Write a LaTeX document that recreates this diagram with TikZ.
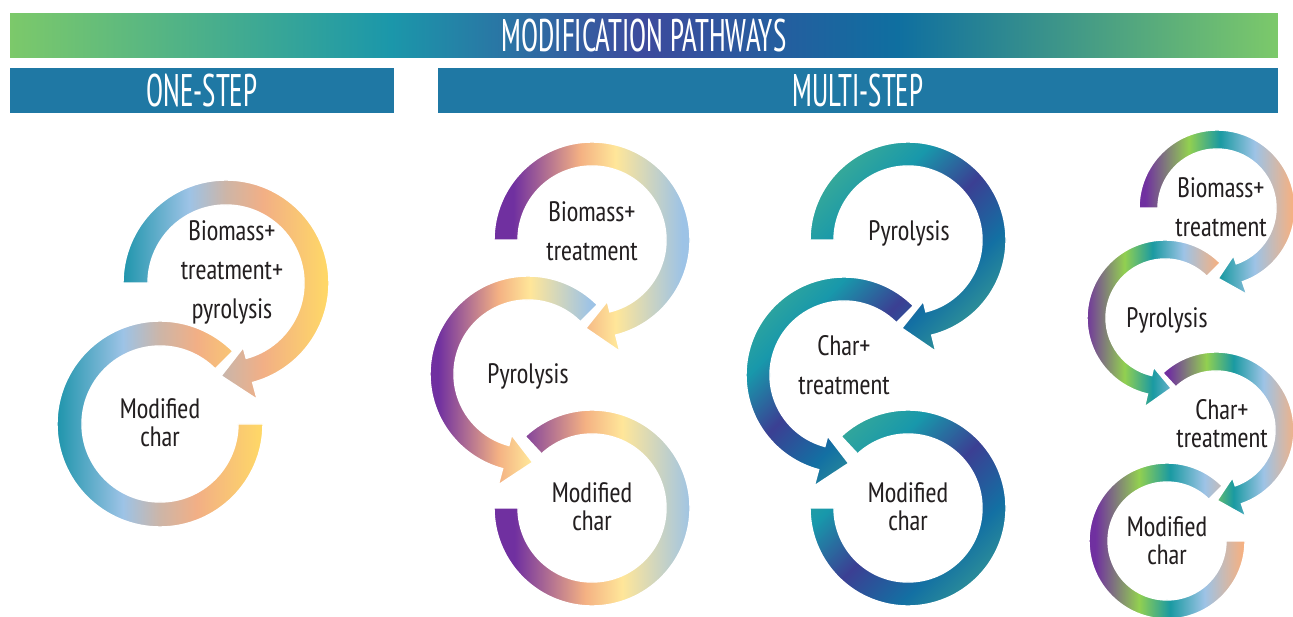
\documentclass[tikz,border=0pt]{standalone}
\usepackage{fontspec}
\setmainfont{PT Sans Narrow}[FakeStretch=0.95]
\newfontfamily\headfont{PT Sans Narrow}[FakeStretch=0.68]
\usetikzlibrary{calc}

% Colours
\definecolor{ink}{HTML}{231F20}
\definecolor{barblue}{HTML}{1F78A4}
\definecolor{hGreen}{HTML}{7CC96A}
\definecolor{hTeal}{HTML}{1B97AA}
\definecolor{hIndigo}{HTML}{3D4A9D}
\definecolor{hBlue}{HTML}{0F6FA0}
\definecolor{aTeal}{HTML}{1F95AC}
\definecolor{aBlue}{HTML}{9DC3E6}
\definecolor{aTan}{HTML}{CDB5A7}
\definecolor{aSalmon}{HTML}{F2AF85}
\definecolor{aYellow}{HTML}{FFD966}
\definecolor{bPurple}{HTML}{7030A0}
\definecolor{bOrange}{HTML}{F4B183}
\definecolor{bYellow}{HTML}{FFE699}
\definecolor{bLight}{HTML}{9DC3E6}
\definecolor{cGreen}{HTML}{4DB58B}
\definecolor{cTeal}{HTML}{1898AB}
\definecolor{cIndigo}{HTML}{3B3F93}
\definecolor{cBlue}{HTML}{1370A3}
\definecolor{dPurple}{HTML}{7030A0}
\definecolor{dGreen}{HTML}{92D050}
\definecolor{dTeal}{HTML}{1A9AA2}
\definecolor{dLight}{HTML}{9DC3E6}
\definecolor{dSalmon}{HTML}{F4B183}

% Shadings
\pgfdeclarehorizontalshading{bannershade}{100bp}{color(0bp)=(hGreen); color(25bp)=(hGreen);
  color(40bp)=(hTeal); color(50bp)=(hIndigo); color(60bp)=(hBlue); color(75bp)=(hGreen); color(100bp)=(hGreen)}
\pgfdeclarehorizontalshading{ringA}{100bp}{color(0bp)=(aTeal); color(25bp)=(aTeal);
  color(41bp)=(aBlue); color(50bp)=(aTan); color(59bp)=(aSalmon); color(75bp)=(aYellow); color(100bp)=(aYellow)}
\pgfdeclarehorizontalshading{ringB}{100bp}{color(0bp)=(bPurple); color(30bp)=(bPurple);
  color(47bp)=(bOrange); color(56bp)=(bYellow); color(73bp)=(bLight); color(100bp)=(bLight)}
\pgfdeclarehorizontalshading{ringC}{100bp}{color(0bp)=(cGreen); color(15bp)=(cGreen);
  color(36bp)=(cTeal); color(50bp)=(cIndigo); color(64bp)=(cBlue); color(85bp)=(cGreen); color(100bp)=(cGreen)}
\pgfdeclarehorizontalshading{ringD}{100bp}{color(0bp)=(dPurple); color(27bp)=(dPurple);
  color(41bp)=(dGreen); color(51bp)=(dTeal); color(62bp)=(dLight); color(74bp)=(dSalmon); color(100bp)=(dSalmon)}

% ring band: centre, outer radius, width, from, to, style
\newcommand{\ringband}[6]{%
  \pgfmathsetmacro\ringrin{#2-#3}
  \path[ring, #6] ($(#1)+(#4:#2)$) arc[start angle=#4, end angle=#5, radius=#2]
    -- ($(#1)+(#5:\ringrin)$) arc[start angle=#5, end angle=#4, radius=\ringrin] -- cycle;
}
% same band, ending in an arrow head
\newcommand{\ringarrow}[6]{%
  \pgfmathsetmacro\ringrin{#2-#3}
  \pgfmathsetmacro\headin{#2-1.45*#3}
  \pgfmathsetmacro\headout{#2+0.7*#3}
  \pgfmathsetmacro\headtip{#2-0.4*#3}
  \pgfmathsetmacro\tipangle{#5+18*sign(#5-#4)}
  \path[ring, #6] ($(#1)+(#4:#2)$) arc[start angle=#4, end angle=#5, radius=#2]
    -- ($(#1)+(#5:\headout)$) -- ($(#1)+(\tipangle:\headtip)$) -- ($(#1)+(#5:\headin)$)
    -- ($(#1)+(#5:\ringrin)$) arc[start angle=#5, end angle=#4, radius=\ringrin] -- cycle;
}

\tikzset{
  ring/.style={shade, draw=white, line width=0.8pt},
  shA/.style={shading=ringA},
  shB/.style={shading=ringB},
  shC/.style={shading=ringC, shading angle=-45},
  shD/.style={shading=ringD},
  lbl/.style={align=center, text=ink, font=\fontsize{16}{15.9}\selectfont},
  lblwide/.style={lbl, font=\fontsize{16}{22.2}\selectfont},
  bar/.style={fill=barblue, text=white, inner sep=0pt, minimum height=0.9cm,
    font=\headfont\fontsize{26}{26}\selectfont}
}

\begin{document}
\begin{tikzpicture}[x=0.02cm, y=0.02cm]

\useasboundingbox[fill=white] (0,0) rectangle (1293,-617);

% Banners
\node[bar, shade, shading=bannershade, minimum width=25.36cm, minimum height=0.88cm] (title) at (644,-36) {MODIFICATION PATHWAYS};
\node[bar, minimum width=7.68cm] (one) at (202,-90.5) {ONE-STEP};
\node[bar, minimum width=16.8cm] (multi) at (858,-90.5) {MULTI-STEP};

% Ring centres
\coordinate (one-top) at (226,-283);
\coordinate (one-bot) at (160,-424);
\coordinate (two-top) at (592,-240);
\coordinate (two-mid) at (528,-374);
\coordinate (two-bot) at (592,-508);
\coordinate (three-top) at (908,-240);
\coordinate (three-mid) at (844,-375);
\coordinate (three-bot) at (908,-508);
\coordinate (four-top) at (1217,-208);
\coordinate (four-mid) at (1165,-318);
\coordinate (four-low) at (1216,-430);
\coordinate (four-bot) at (1167,-541);

% One-step
\ringarrow{one-top}{103}{25}{180}{-75}{shA}
\ringband{one-bot}{103}{25}{0}{-315}{shA}

% Multi-step, three stages
\ringarrow{two-top}{98}{24}{180}{-76}{shB}
\ringarrow{two-mid}{98}{24}{45}{255}{shB}
\ringband{two-bot}{98}{24}{133}{-180}{shB}

\ringarrow{three-top}{98}{24}{180}{-76}{shC}
\ringarrow{three-mid}{98}{24}{45}{255}{shC}
\ringband{three-bot}{98}{24}{133}{-180}{shC}

% Multi-step, four stages
\ringarrow{four-top}{78}{19}{180}{-71}{shD}
\ringarrow{four-mid}{78}{19}{45}{257}{shD}
\ringarrow{four-low}{78}{19}{133}{-71}{shD}
\ringband{four-bot}{78}{19}{0}{-315}{shD}

% Labels
\node[lblwide] (one-top-lbl) at (232,-272) {Biomass+\\treatment+\\pyrolysis};
\node[lbl] (one-bot-lbl) at (160,-423) {Modified\\char};
\node[lblwide] (two-top-lbl) at (592,-231) {Biomass+\\treatment};
\node[lbl] (two-mid-lbl) at (528,-376) {Pyrolysis};
\node[lbl] (two-bot-lbl) at (592,-507) {Modified\\char};
\node[lbl] (three-top-lbl) at (909,-233) {Pyrolysis};
\node[lblwide] (three-mid-lbl) at (844,-365) {Char+\\treatment};
\node[lbl] (three-bot-lbl) at (908,-507) {Modified\\char};
\node[lblwide] (four-top-lbl) at (1221,-207) {Biomass+\\treatment};
\node[lbl] (four-mid-lbl) at (1167,-320) {Pyrolysis};
\node[lbl] (four-low-lbl) at (1222,-424) {Char+\\treatment};
\node[lbl] (four-bot-lbl) at (1167,-541) {Modified\\char};

\end{tikzpicture}
\end{document}
